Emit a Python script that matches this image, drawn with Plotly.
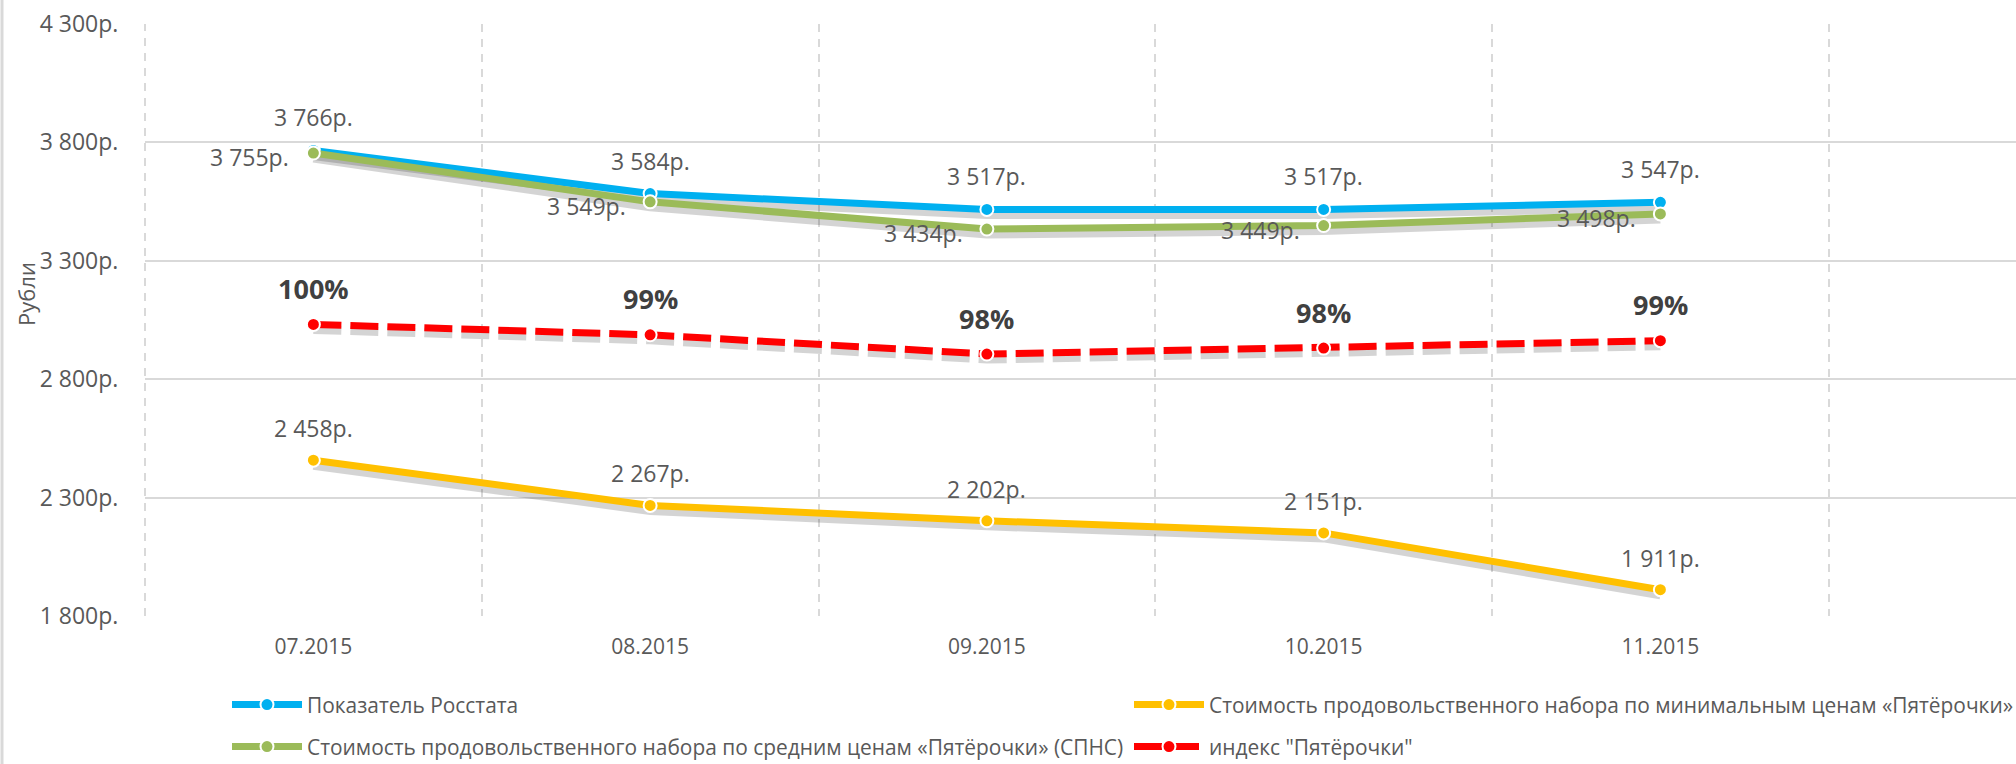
import plotly.graph_objects as go

# ---------------- data ----------------
months = ["07.2015", "08.2015", "09.2015", "10.2015", "11.2015"]
rosstat = [3766, 3584, 3517, 3517, 3547]
avg_pyat = [3755, 3549, 3434, 3449, 3498]
min_pyat = [2458, 2267, 2202, 2151, 1911]
index_pyat = [0.997, 0.990, 0.977, 0.981, 0.986]

y_ticks = [1800, 2300, 2800, 3300, 3800, 4300]

name_rosstat = "Показатель Росстата"
name_min = "Стоимость продовольственного набора по минимальным ценам «Пятёрочки»"
name_avg = "Стоимость продовольственного набора по средним ценам «Пятёрочки» (СПНС)"
name_index = "индекс \"Пятёрочки\""
y_title = "Рубли"

# ---------------- styles ----------------
W, H = 2016, 764
L, R, T, B = 145, 0, 24, 148
PW, PH = W - L - R, H - T - B
CAT_W = 336.75
Y_RANGE = [1800, 4300]
Y2_RANGE = [0.8, 1.2]

BLUE, GREEN, YELLOW, RED = "#00B0F0", "#9BBB59", "#FFC000", "#FF0000"
TXT = "#595959"
GRID = "#D9D9D9"
FONT = "Open Sans"


def rub(v):
    return f"{v:,}".replace(",", " ") + "р."


fig = go.Figure()

# shadows (Excel-like soft shadow under lines)
sh_px = 5
dy1 = sh_px * (Y_RANGE[1] - Y_RANGE[0]) / PH
dy2 = sh_px * (Y2_RANGE[1] - Y2_RANGE[0]) / PH
for vals, dash, yax, dy in [
    (rosstat, "solid", "y", dy1),
    (avg_pyat, "solid", "y", dy1),
    (min_pyat, "solid", "y", dy1),
    (index_pyat, "28px,9px", "y2", dy2),
]:
    fig.add_trace(go.Scatter(
        x=months, y=[v - dy for v in vals], mode="lines", yaxis=yax,
        line=dict(color="rgba(0,0,0,0.17)", width=9, dash=dash),
        showlegend=False, hoverinfo="skip"))

marker_common = dict(size=13, line=dict(color="white", width=2))

fig.add_trace(go.Scatter(
    x=months, y=rosstat, name=name_rosstat, mode="lines+markers",
    line=dict(color=BLUE, width=7), marker=dict(color=BLUE, **marker_common),
    legend="legend"))
fig.add_trace(go.Scatter(
    x=months, y=avg_pyat, name=name_avg, mode="lines+markers",
    line=dict(color=GREEN, width=7), marker=dict(color=GREEN, **marker_common),
    legend="legend3"))
fig.add_trace(go.Scatter(
    x=months, y=min_pyat, name=name_min, mode="lines+markers",
    line=dict(color=YELLOW, width=7), marker=dict(color=YELLOW, **marker_common),
    legend="legend2"))
fig.add_trace(go.Scatter(
    x=months, y=index_pyat, name=name_index, mode="lines+markers", yaxis="y2",
    line=dict(color=RED, width=7, dash="28px,9px"),
    marker=dict(color=RED, **marker_common),
    legend="legend4"))

# ---------------- data labels (x = category serial number) ----------------
ann = []
lab_font = dict(family=FONT, size=23, color=TXT)
for i, v in enumerate(rosstat):
    ann.append(dict(x=i, y=v, xref="x", yref="y", text=rub(v), showarrow=False,
                    yshift=33, yanchor="middle", font=lab_font))
for i, v in enumerate(avg_pyat):
    ann.append(dict(x=i, y=v, xref="x", yref="y", text=rub(v), showarrow=False,
                    xanchor="right", xshift=-22, yshift=-4, yanchor="middle",
                    font=lab_font))
for i, v in enumerate(min_pyat):
    ann.append(dict(x=i, y=v, xref="x", yref="y", text=rub(v), showarrow=False,
                    yshift=32, yanchor="middle", font=lab_font))
for i, v in enumerate(index_pyat):
    ann.append(dict(x=i, y=v, xref="x", yref="y2", text=f"<b>{v:.0%}</b>",
                    showarrow=False, yshift=36, yanchor="middle",
                    font=dict(family=FONT, size=27, color="#404040")))

# y-axis title
ann.append(dict(x=(26 - L) / PW, y=(H - B - 294) / PH, xref="paper", yref="paper",
                xanchor="center", yanchor="middle",
                text=y_title, textangle=-90, showarrow=False,
                font=dict(family=FONT, size=22, color=TXT)))

# ---------------- layout ----------------
def leg(px, py):
    return dict(orientation="h", x=(px - L) / PW, y=(H - B - py) / PH,
                xanchor="left", yanchor="middle", bgcolor="rgba(0,0,0,0)",
                font=dict(family=FONT, size=20.9, color=TXT), itemwidth=70)

fig.update_layout(
    width=W, height=H,
    margin=dict(l=L, r=R, t=T, b=B, pad=0, autoexpand=False),
    paper_bgcolor="white", plot_bgcolor="white",
    font=dict(family=FONT, color=TXT),
    showlegend=True,
    legend=leg(227, 705),
    legend2=leg(1129, 705),
    legend3=leg(227, 747),
    legend4=leg(1129, 747),
    xaxis=dict(
        type="category", range=[-0.5, -0.5 + PW / CAT_W],
        tickson="boundaries", showgrid=True, gridcolor=GRID, gridwidth=2,
        griddash="8px,7px", ticks="", showline=False, zeroline=False,
        ticklabelstandoff=16,
        tickfont=dict(family=FONT, size=21, color=TXT)),
    yaxis=dict(
        range=Y_RANGE, tickvals=y_ticks, ticktext=[rub(v) for v in y_ticks],
        showgrid=True, gridcolor=GRID, gridwidth=2, zeroline=False, showline=False,
        ticks="outside", ticklen=21, tickcolor="rgba(0,0,0,0)",
        tickfont=dict(family=FONT, size=23, color=TXT)),
    yaxis2=dict(range=Y2_RANGE, overlaying="y", side="right", visible=False,
                showgrid=False),
    annotations=ann,
    shapes=[
        dict(type="line", xref="paper", yref="paper",
             x0=(2 - L) / PW, x1=(2 - L) / PW, y0=-B / PH, y1=1 + T / PH,
             line=dict(color=GRID, width=3)),
        dict(type="line", xref="paper", yref="paper", x0=0, x1=0, y0=0, y1=1,
             line=dict(color=GRID, width=2, dash="8px,7px"), layer="below"),
    ],
)

fig.write_html("out.html",
               config={"displayModeBar": False},
               post_script="document.body.style.margin='0';"
                           "document.body.style.overflow='hidden';")
